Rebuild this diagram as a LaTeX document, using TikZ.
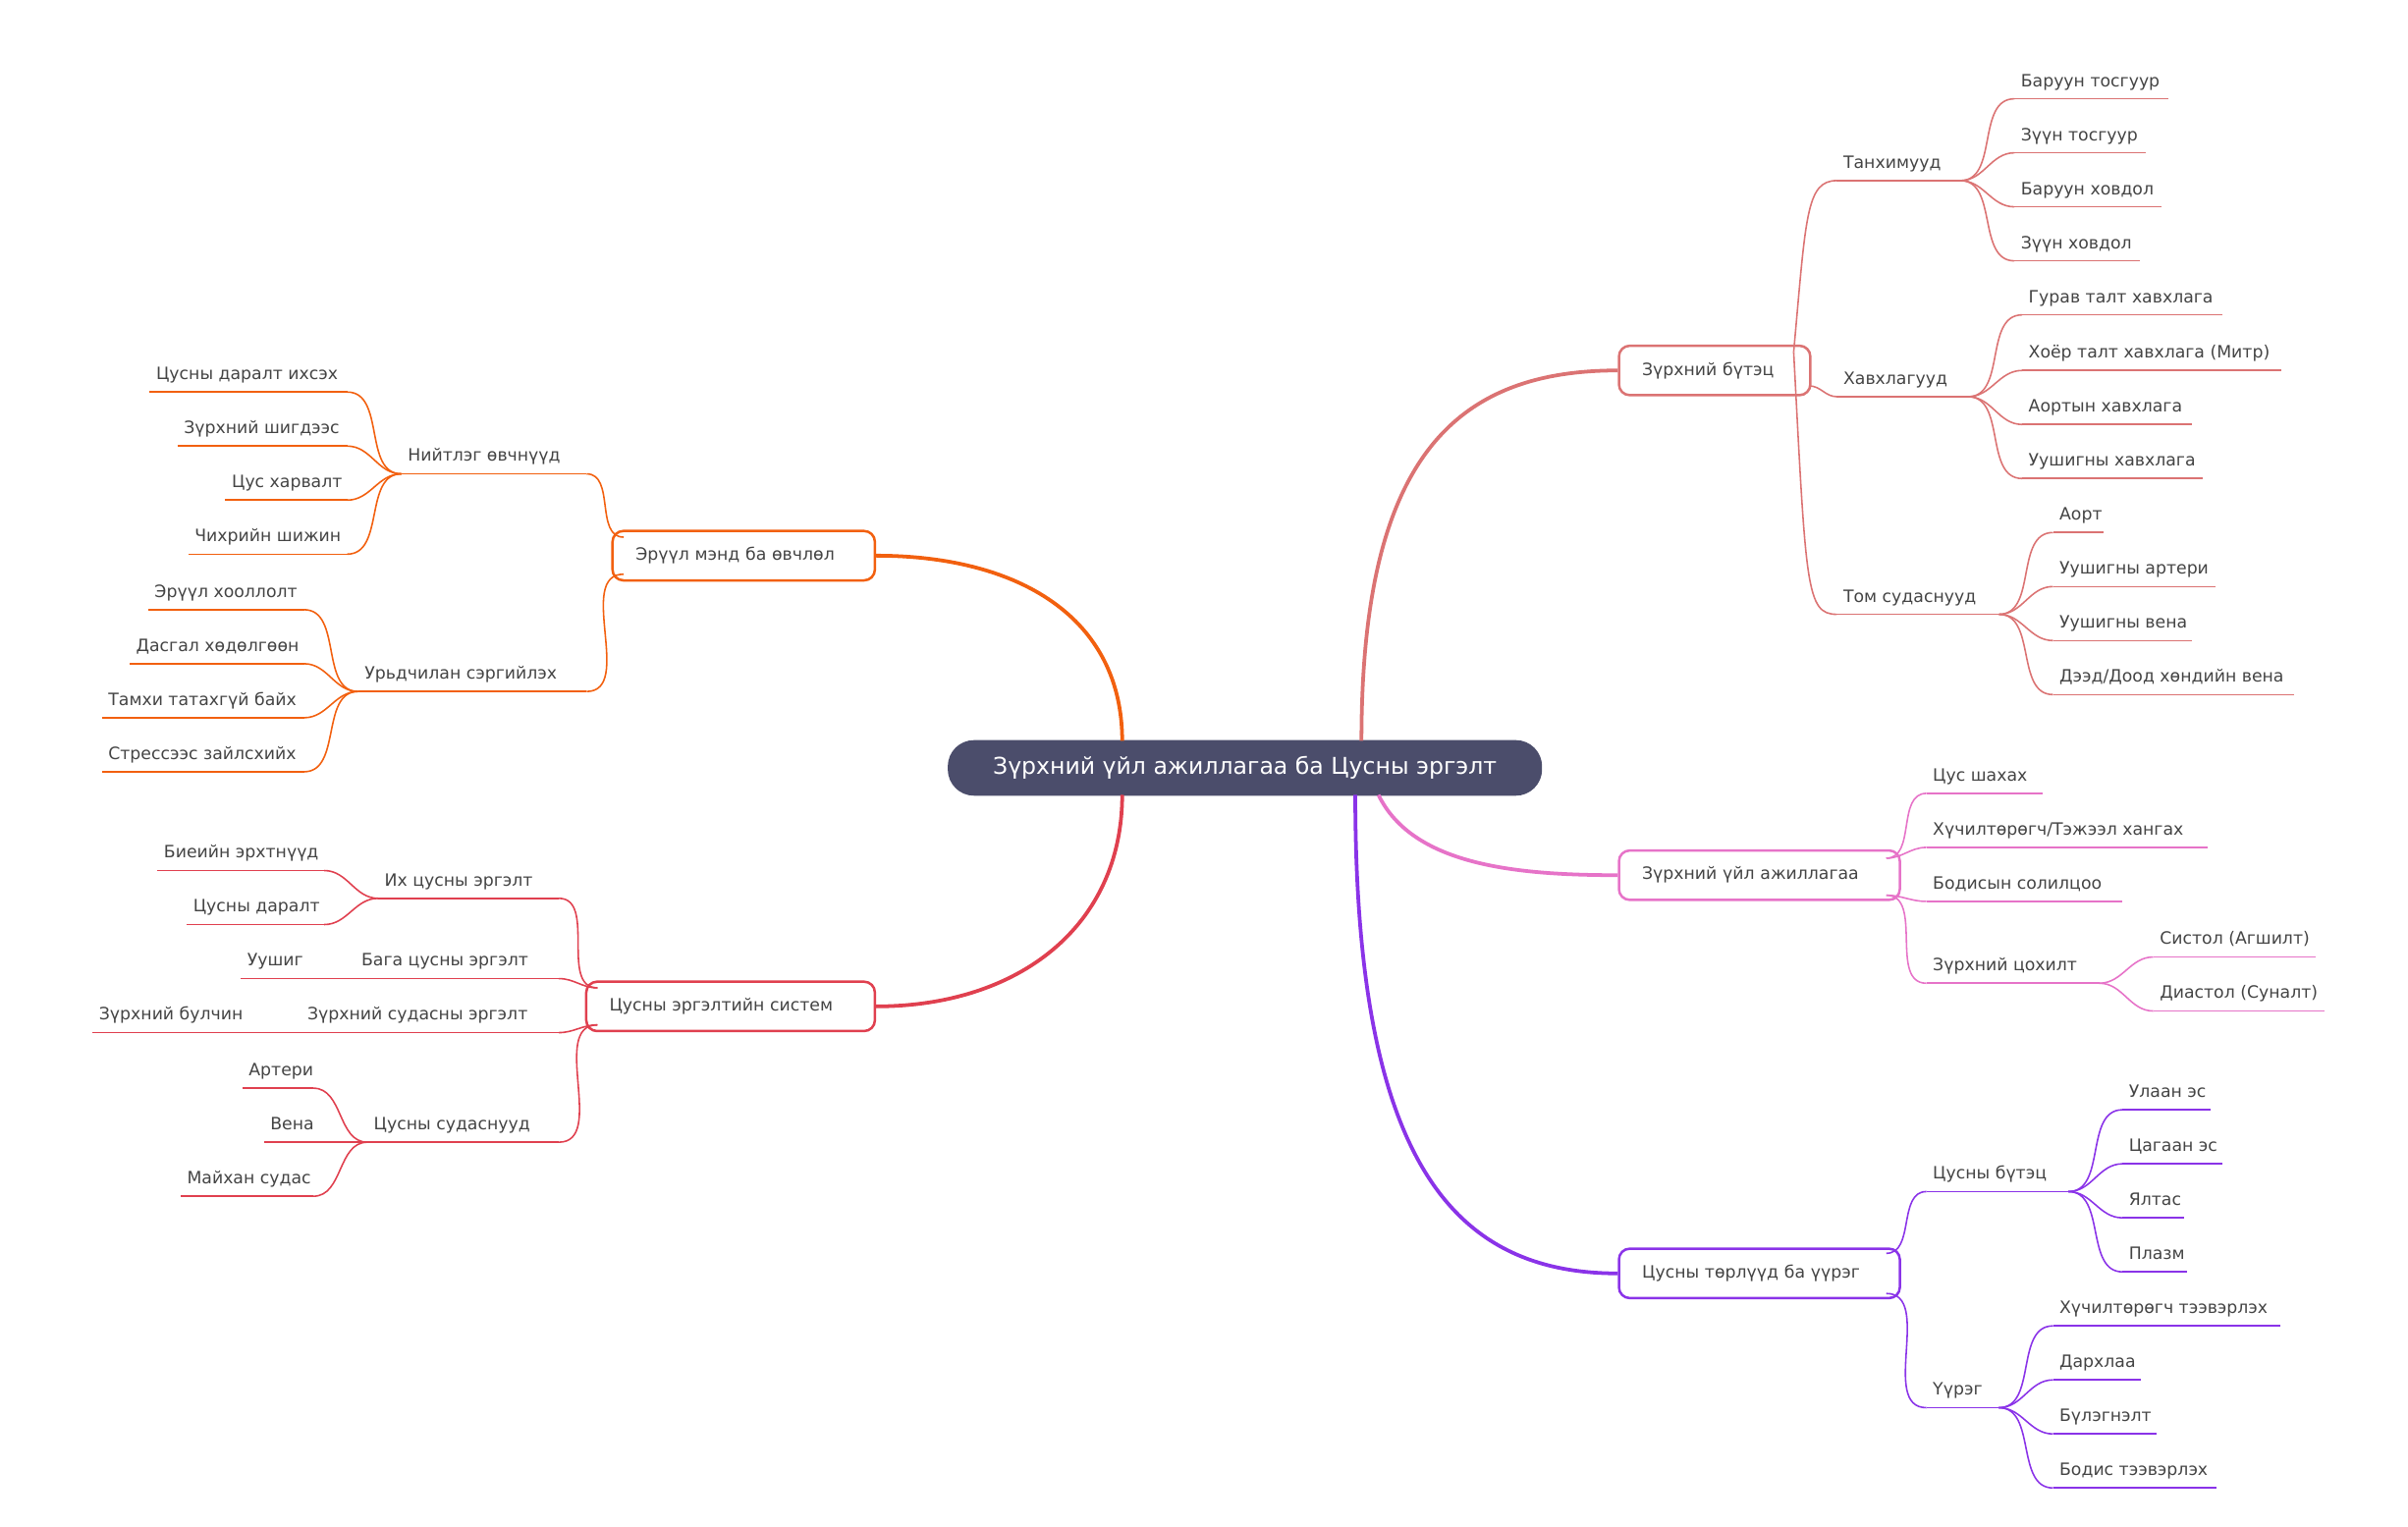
\documentclass[tikz,border=0pt]{standalone}
\usepackage{fontspec}
\setmainfont{DejaVu Sans}
\definecolor{cA}{HTML}{DB7373}
\definecolor{cB}{HTML}{E673C8}
\definecolor{cC}{HTML}{8A33E8}
\definecolor{cD}{HTML}{F2600F}
\definecolor{cE}{HTML}{E0404F}
\definecolor{cCen}{HTML}{4B4D6B}
\definecolor{txt}{HTML}{444444}
\tikzset{
 lbl/.style={anchor=base west,inner sep=0pt,text=txt,font=\fontsize{11}{13}\selectfont},
 bx/.style={draw=#1,line width=1.6pt,rounded corners=7pt,fill=white,text=txt,inner sep=0pt,font=\fontsize{11}{13}\selectfont,anchor=west},
 thin/.style={draw=#1,line width=1pt},
 thick/.style={draw=#1,line width=2.4pt}
}
\newcommand{\lfx}[6]{% name x1 x2 y text color
 \coordinate (#1l) at (#2,#4); \coordinate (#1r) at (#3,#4);
 \node[lbl] (#1) at (#2+4,#4-8) {#5};
 \draw[thin=#6] (#1l) -- (#1r);}
\newcommand{\crv}[3]{\draw[thin=#3] (#1) to[out=0,in=180] (#2);}
\begin{document}
\begin{tikzpicture}[x=1pt,y=-1pt]
\useasboundingbox (0,0) rectangle (1560,989);
% central
\node[fill=cCen,rounded corners=17pt,minimum width=385pt,minimum height=36pt,text=white,font=\fontsize{15}{18}\selectfont,inner sep=0pt] (cen) at (806.5,497.5) {Зүрхний үйл ажиллагаа ба Цусны эргэлт};
% boxes
\node[bx=cA,minimum width=124pt,minimum height=32pt,text width=124pt] (b1) at (1048,240) {\hspace*{15pt}Зүрхний бүтэц};
\node[bx=cB,minimum width=182pt,minimum height=32pt,text width=182pt] (b2) at (1048,567) {\hspace*{15pt}Зүрхний үйл ажиллагаа};
\node[bx=cC,minimum width=182pt,minimum height=32pt,text width=182pt] (b3) at (1048,825) {\hspace*{15pt}Цусны төрлүүд ба үүрэг};
\node[bx=cD,minimum width=170pt,minimum height=32pt,text width=170pt] (b4) at (396,360) {\hspace*{15pt}Эрүүл мэнд ба өвчлөл};
\node[bx=cE,minimum width=187pt,minimum height=32pt,text width=187pt] (b5) at (379,652) {\hspace*{15pt}Цусны эргэлтийн систем};
% main connectors
\coordinate (c1) at (882,480); \coordinate (c2) at (893,515); \coordinate (c3) at (878,515);
\coordinate (c4) at (727,480); \coordinate (c5) at (727,515);
\draw[thick=cA] (c1) .. controls (882,300) and (940,240) .. (b1.west);
\draw[thick=cB] (c2) .. controls (915,560) and (980,567) .. (b2.west);
\draw[thick=cC] (c3) .. controls (878,750) and (940,825) .. (b3.west);
\draw[thick=cD] (c4) .. controls (727,400) and (660,360) .. (b4.east);
\draw[thick=cE] (c5) .. controls (727,600) and (660,652) .. (b5.east);
% ---- Зүрхний бүтэц
\coordinate (p1) at (1162,228); \coordinate (p1b) at (1172,250);
\lfx{t1}{1190}{1270}{117}{Танхимууд}{cA}
\lfx{t2}{1190}{1275}{257}{Хавхлагууд}{cA}
\lfx{t3}{1190}{1295}{398}{Том судаснууд}{cA}
\draw[thin=cA] (p1) .. controls (1170,140) and (1170,117) .. (t1l);
\crv{p1b}{t2l}{cA}
\draw[thin=cA] (p1) .. controls (1170,380) and (1170,398) .. (t3l);
\lfx{a1}{1305}{1405}{64}{Баруун тосгуур}{cA}
\lfx{a2}{1305}{1390}{99}{Зүүн тосгуур}{cA}
\lfx{a3}{1305}{1400}{134}{Баруун ховдол}{cA}
\lfx{a4}{1305}{1386}{169}{Зүүн ховдол}{cA}
\foreach \i in {1,...,4}{\crv{t1r}{a\i l}{cA}}
\lfx{v1}{1310}{1440}{204}{Гурав талт хавхлага}{cA}
\lfx{v2}{1310}{1478}{240}{Хоёр талт хавхлага (Митр)}{cA}
\lfx{v3}{1310}{1420}{275}{Аортын хавхлага}{cA}
\lfx{v4}{1310}{1427}{310}{Уушигны хавхлага}{cA}
\foreach \i in {1,...,4}{\crv{t2r}{v\i l}{cA}}
\lfx{s1}{1330}{1363}{345}{Аорт}{cA}
\lfx{s2}{1330}{1435}{380}{Уушигны артери}{cA}
\lfx{s3}{1330}{1420}{415}{Уушигны вена}{cA}
\lfx{s4}{1330}{1486}{450}{Дээд/Доод хөндийн вена}{cA}
\foreach \i in {1,...,4}{\crv{t3r}{s\i l}{cA}}
% ---- Зүрхний үйл ажиллагаа
\coordinate (p2) at (1222,556); \coordinate (p2b) at (1222,580);
\lfx{u1}{1248}{1323}{514}{Цус шахах}{cB}
\lfx{u2}{1248}{1430}{549}{Хүчилтөрөгч/Тэжээл хангах}{cB}
\lfx{u3}{1248}{1375}{584}{Бодисын солилцоо}{cB}
\lfx{u4}{1248}{1360}{637}{Зүрхний цохилт}{cB}
\crv{p2}{u1l}{cB} \crv{p2}{u2l}{cB} \crv{p2b}{u3l}{cB} \crv{p2b}{u4l}{cB}
\lfx{h1}{1395}{1500}{620}{Систол (Агшилт)}{cB}
\lfx{h2}{1395}{1506}{655}{Диастол (Суналт)}{cB}
\crv{u4r}{h1l}{cB} \crv{u4r}{h2l}{cB}
% ---- Цусны төрлүүд
\coordinate (p3) at (1222,812); \coordinate (p3b) at (1222,838);
\lfx{w1}{1248}{1340}{772}{Цусны бүтэц}{cC}
\lfx{w2}{1248}{1295}{912}{Үүрэг}{cC}
\crv{p3}{w1l}{cC} \crv{p3b}{w2l}{cC}
\lfx{e1}{1375}{1432}{719}{Улаан эс}{cC}
\lfx{e2}{1375}{1440}{754}{Цагаан эс}{cC}
\lfx{e3}{1375}{1415}{789}{Ялтас}{cC}
\lfx{e4}{1375}{1417}{824}{Плазм}{cC}
\foreach \i in {1,...,4}{\crv{w1r}{e\i l}{cC}}
\lfx{f1}{1330}{1477}{859}{Хүчилтөрөгч тээвэрлэх}{cC}
\lfx{f2}{1330}{1387}{894}{Дархлаа}{cC}
\lfx{f3}{1330}{1397}{929}{Бүлэгнэлт}{cC}
\lfx{f4}{1330}{1436}{964}{Бодис тээвэрлэх}{cC}
\foreach \i in {1,...,4}{\crv{w2r}{f\i l}{cC}}
% ---- Эрүүл мэнд
\coordinate (p4) at (404,348); \coordinate (p4b) at (404,372);
\lfx{n1}{260}{380}{307}{Нийтлэг өвчнүүд}{cD}
\lfx{n2}{232}{380}{448}{Урьдчилан сэргийлэх}{cD}
\crv{n1r}{p4}{cD} \crv{n2r}{p4b}{cD}
\lfx{g1}{97}{225}{254}{Цусны даралт ихсэх}{cD}
\lfx{g2}{115}{225}{289}{Зүрхний шигдээс}{cD}
\lfx{g3}{146}{225}{324}{Цус харвалт}{cD}
\lfx{g4}{122}{225}{359}{Чихрийн шижин}{cD}
\foreach \i in {1,...,4}{\crv{g\i r}{n1l}{cD}}
\lfx{k1}{96}{197}{395}{Эрүүл хооллолт}{cD}
\lfx{k2}{84}{197}{430}{Дасгал хөдөлгөөн}{cD}
\lfx{k3}{66}{197}{465}{Тамхи татахгүй байх}{cD}
\lfx{k4}{66}{197}{500}{Стрессээс зайлсхийх}{cD}
\foreach \i in {1,...,4}{\crv{k\i r}{n2l}{cD}}
% ---- Цусны эргэлт
\coordinate (p5) at (387,640); \coordinate (p5b) at (387,664);
\lfx{m1}{245}{362}{582}{Их цусны эргэлт}{cE}
\lfx{m2}{230}{362}{634}{Бага цусны эргэлт}{cE}
\lfx{m3}{195}{362}{669}{Зүрхний судасны эргэлт}{cE}
\lfx{m4}{238}{362}{740}{Цусны судаснууд}{cE}
\crv{m1r}{p5}{cE} \crv{m2r}{p5}{cE} \crv{m3r}{p5b}{cE} \crv{m4r}{p5b}{cE}
\lfx{q1}{102}{210}{564}{Биеийн эрхтнүүд}{cE}
\lfx{q2}{121}{210}{599}{Цусны даралт}{cE}
\crv{q1r}{m1l}{cE} \crv{q2r}{m1l}{cE}
\lfx{q3}{156}{230}{634}{Уушиг}{cE}
\lfx{q4}{60}{195}{669}{Зүрхний булчин}{cE}
\lfx{r1}{157}{203}{705}{Артери}{cE}
\lfx{r2}{171}{203}{740}{Вена}{cE}
\lfx{r3}{117}{203}{775}{Майхан судас}{cE}
\foreach \i in {1,...,3}{\crv{r\i r}{m4l}{cE}}
\end{tikzpicture}
\end{document}
